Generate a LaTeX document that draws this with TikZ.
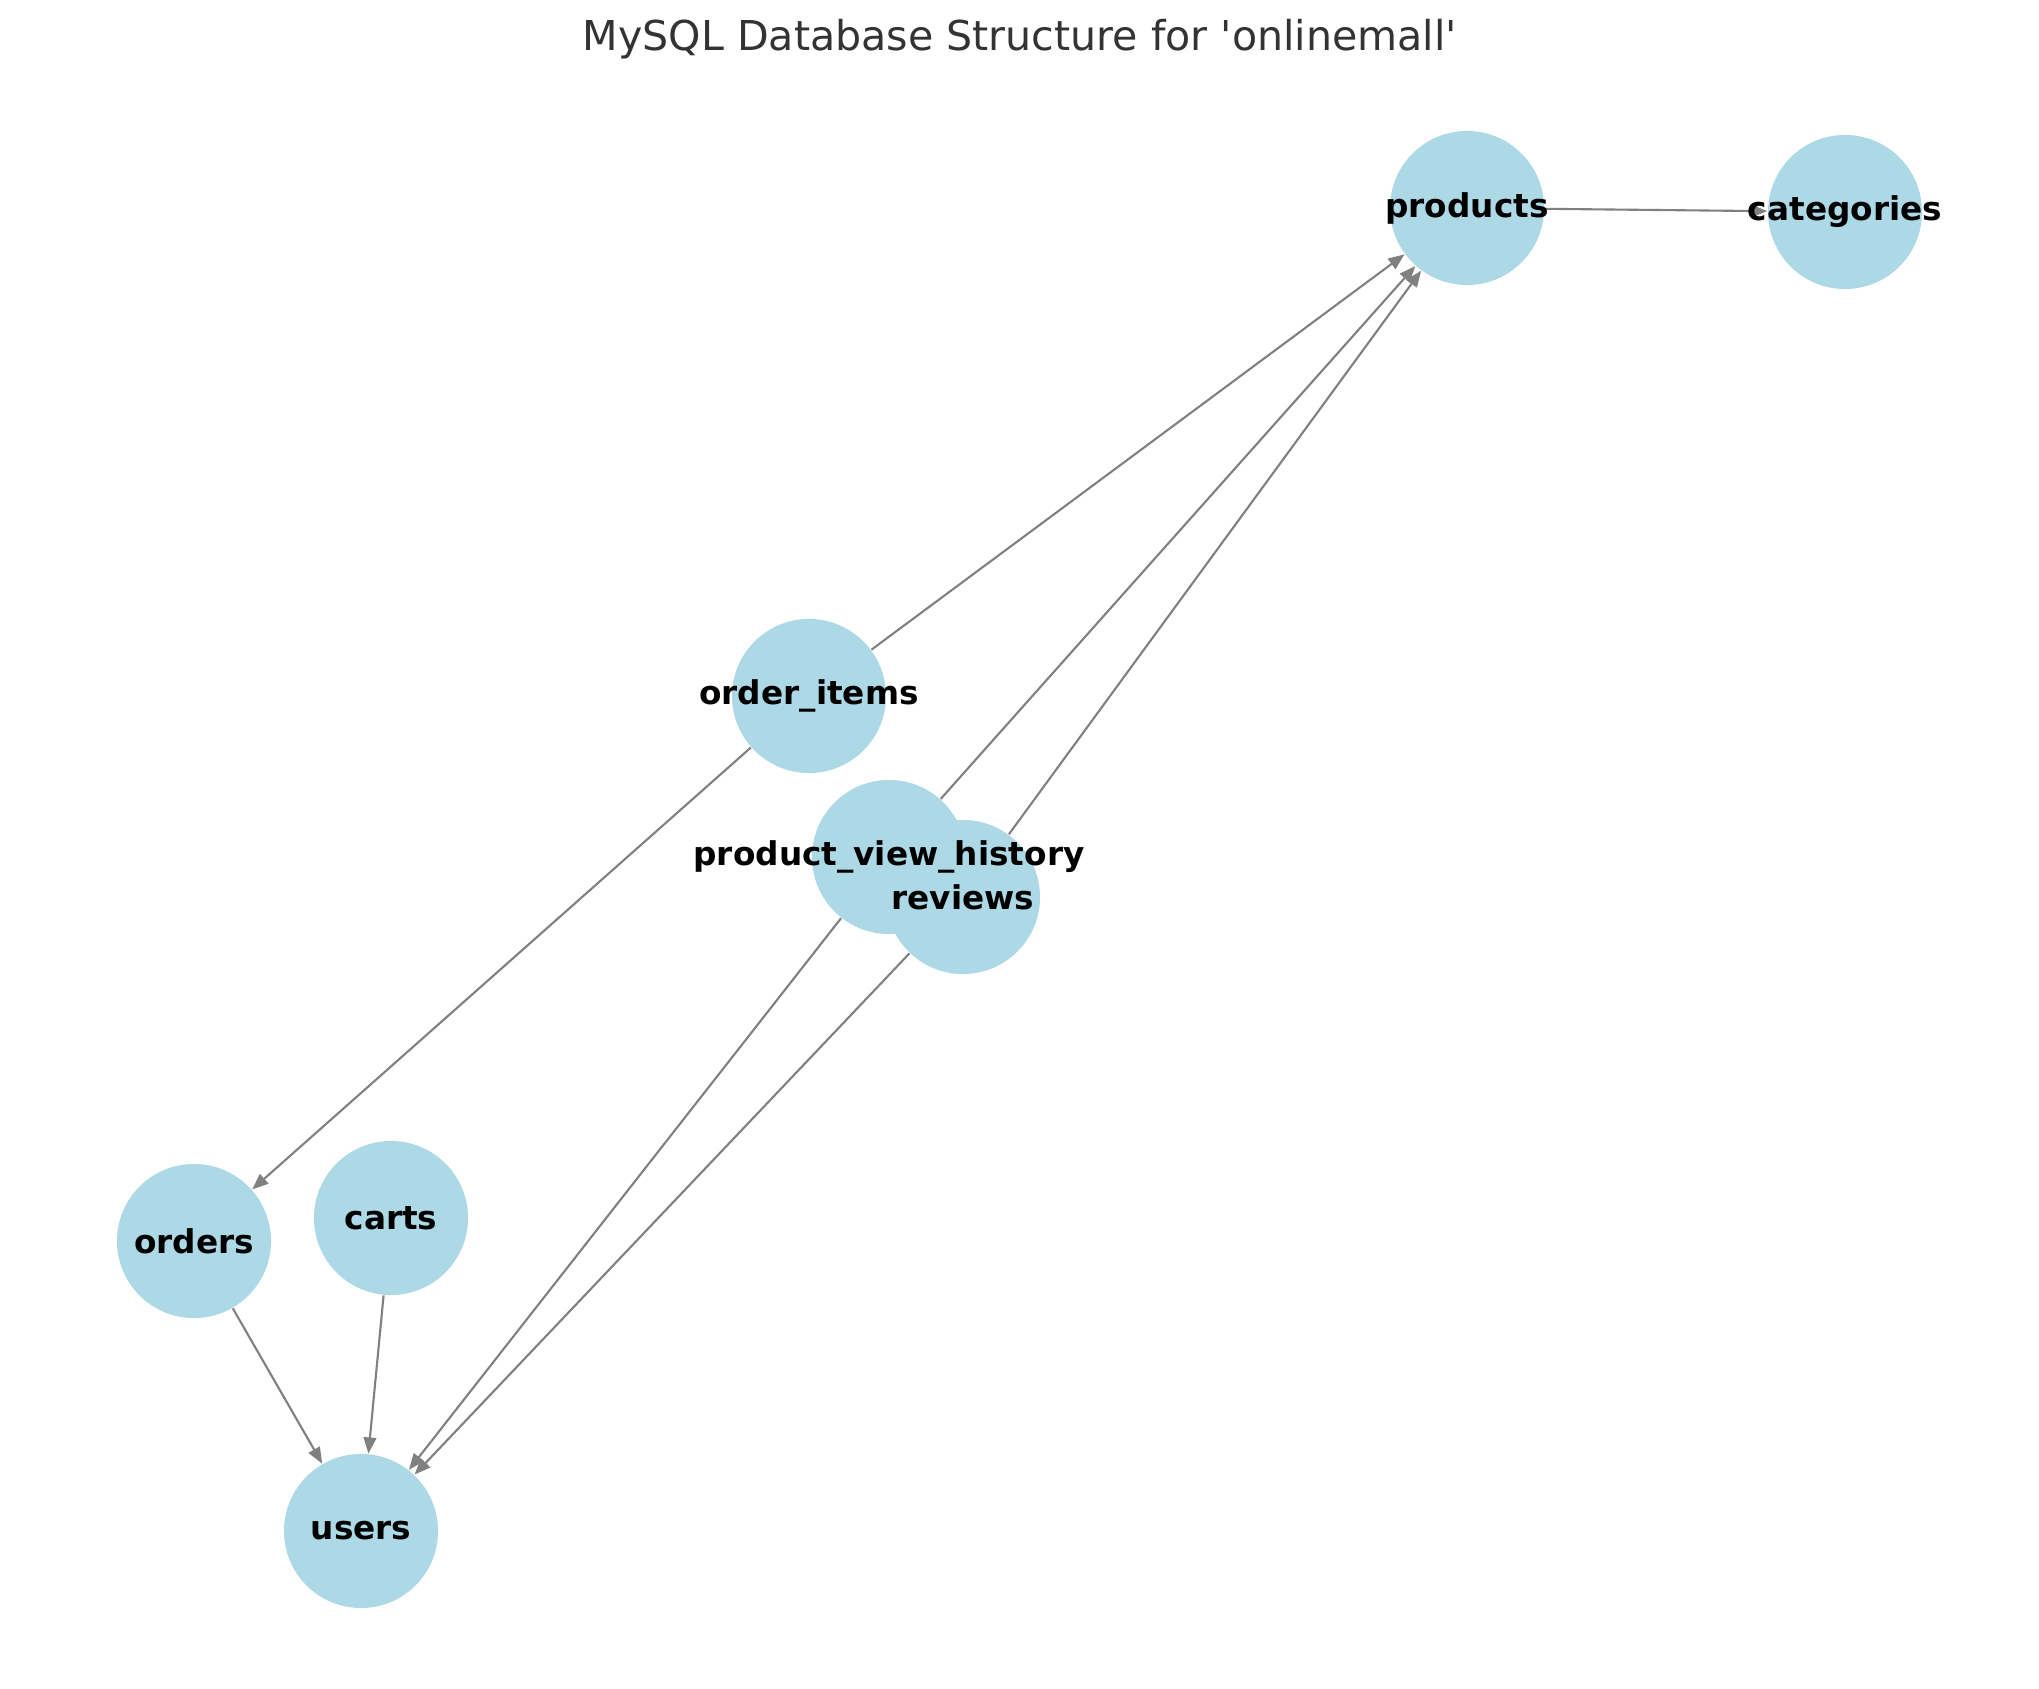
\documentclass[tikz,border=0pt]{standalone}
\usepackage{fontspec}
\setmainfont{DejaVu Sans}
\newfontfamily\titlefont{DejaVu Sans}[Ligatures=TeXOff]
\usetikzlibrary{arrows.meta}
\definecolor{tblblue}{HTML}{ADD8E6}
\definecolor{titlegray}{HTML}{333333}
\begin{document}
\begin{tikzpicture}[x=0.01cm, y=-0.01cm,
    tbl/.style={circle, fill=tblblue, minimum size=15.4mm, inner sep=0pt},
    tname/.style={font=\fontsize{9.3}{11}\selectfont\bfseries, text=black, inner sep=0pt},
    fk/.style={draw=gray, line width=0.6pt, -{Triangle[length=4.6pt, width=3.6pt]}}]
    \useasboundingbox (0,0) rectangle (2039,1689);
    \node[font=\titlefont\fontsize{11.7}{14}\selectfont, text=titlegray] (title) at (1020,39) {MySQL Database Structure for 'onlinemall'};
    % tables
    \node[tbl] (products) at (1467,208) {};
    \node[tbl] (categories) at (1845,212) {};
    \node[tbl] (order_items) at (809,696) {};
    \node[tbl] (product_view_history) at (889,857) {};
    \node[tbl] (reviews) at (963,897) {};
    \node[tbl] (orders) at (194,1241) {};
    \node[tbl] (carts) at (391,1218) {};
    \node[tbl] (users) at (361,1531) {};
    % foreign keys
    \draw[fk] (products) -- (categories);
    \draw[fk] (order_items) -- (products);
    \draw[fk] (product_view_history) -- (products);
    \draw[fk] (reviews) -- (products);
    \draw[fk] (order_items) -- (orders);
    \draw[fk] (orders) -- (users);
    \draw[fk] (carts) -- (users);
    \draw[fk] (product_view_history) -- (users);
    \draw[fk] (reviews) -- (users);
    % table names
    \node[tname] (products-lbl) at (products) {products};
    \node[tname] (categories-lbl) at (categories) {categories};
    \node[tname] (order_items-lbl) at (order_items) {order\_items};
    \node[tname] (product_view_history-lbl) at (product_view_history) {product\_view\_history};
    \node[tname] (reviews-lbl) at (reviews) {reviews};
    \node[tname] (orders-lbl) at (orders) {orders};
    \node[tname] (carts-lbl) at (carts) {carts};
    \node[tname] (users-lbl) at (users) {users};
\end{tikzpicture}
\end{document}
